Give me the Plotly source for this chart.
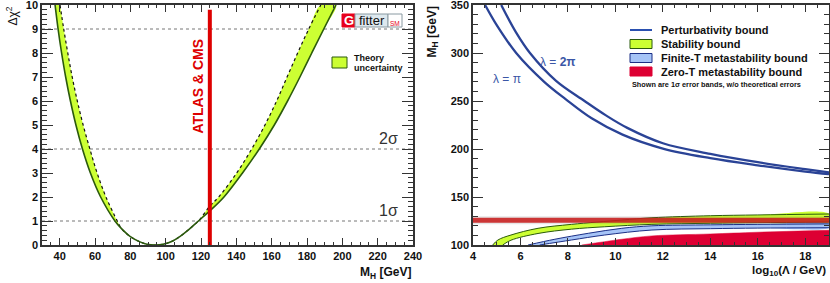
import plotly.graph_objects as go

W, H = 830, 283
FONT = "Liberation Sans, Arial, sans-serif"

# ---------------- Left panel data: Delta chi^2 vs M_H ----------------
# lower edge (solid line, with theory errors)
mh_solid = [37.4, 39.1, 41.1, 43.4, 46.1, 49.2, 52.9, 57.4, 63.2, 71.3, 75.0, 80.0, 85.5, 89.5, 94.0,
            98.5, 104.0, 108.0, 112.0, 118.5, 125.0, 133.0, 143.5, 153.0, 161.5, 169.0, 176.0, 182.7, 189.5, 196.4]
chi2_solid = [10, 9, 8, 7, 6, 5, 4, 3, 2, 1, 0.68, 0.35, 0.13, 0.03, 0.0,
              0.03, 0.17, 0.35, 0.58, 1.0, 1.42, 2, 3, 4, 5, 6, 7, 8, 9, 10]
# upper edge (dotted line, without theory errors)
mh_dotted = [40.2, 42.3, 44.6, 47.1, 50.0, 53.3, 57.1, 61.2, 66.2, 72.6, 75.0, 80.0, 85.5, 89.5, 94.0,
             98.5, 104.0, 108.0, 112.0, 118.5, 125.0, 130.0, 140.2, 148.7, 156.2, 162.8, 168.7, 174.7, 181.0, 187.8]
chi2_dotted = [10, 9, 8, 7, 6, 5, 4, 3, 2, 1, 0.68, 0.35, 0.13, 0.03, 0.0,
               0.03, 0.17, 0.35, 0.58, 1.0, 1.62, 2, 3, 4, 5, 6, 7, 8, 9, 10]
sigma_levels = [1, 4, 9]
sigma_labels = {1: "1σ", 4: "2σ"}
atlas_cms_mh = 125.0
atlas_line_chi2 = [0, 9.8]
mh_range = [30, 240]
chi2_range = [0, 10]
mh_ticks = [40, 60, 80, 100, 120, 140, 160, 180, 200, 220, 240]
chi2_ticks = [0, 1, 2, 3, 4, 5, 6, 7, 8, 9, 10]

# ---------------- Right panel data: M_H bounds vs log10(Lambda/GeV) ----------------
lam_range = [4, 19]
mhb_range = [100, 350]
lam_ticks = [4, 6, 8, 10, 12, 14, 16, 18]
mhb_ticks = [100, 150, 200, 250, 300, 350]

pert_pi_x = [4.51, 5.0, 5.82, 7.0, 7.9, 9.0, 10.3, 12.0, 14.0, 16.0, 18.0, 19.0]
pert_pi_y = [350, 329, 300, 270, 252, 232, 215, 200.5, 190.5, 183, 176.5, 173.8]
pert_2pi_x = [5.19, 5.8, 6.4, 7.5, 8.7, 9.6, 10.5, 12.0, 14.0, 16.0, 18.0, 19.0]
pert_2pi_y = [350, 322, 300, 271, 250, 235, 222, 206, 195, 186.3, 179.0, 175.6]

stab_up_x = [4.83, 5.05, 5.6, 6.74, 8.15, 10.27, 11.54, 14.0, 16.0, 19.0]
stab_up_y = [100, 105.2, 110.4, 117.4, 121.5, 126.0, 128.4, 130.5, 131.3, 132.3]
stab_lo_x = [5.25, 5.6, 6.74, 8.15, 9.55, 11.54, 14.0, 16.0, 19.0]
stab_lo_y = [100, 105.0, 112.0, 116.5, 119.0, 121.5, 122.6, 123.2, 124.0]

fint_up_x = [6.32, 7.45, 8.86, 10.27, 11.54, 14.0, 16.0, 19.0]
fint_up_y = [100, 106.0, 112.2, 117.4, 120.0, 121.0, 121.5, 122.0]
fint_lo_x = [6.81, 8.15, 9.55, 11.54, 14.0, 16.0, 19.0]
fint_lo_y = [100, 105.2, 110.4, 115.6, 117.0, 117.6, 118.0]

zert_x = [8.58, 9.55, 10.27, 11.54, 14.0, 16.0, 19.0]
zert_y = [100, 103.5, 106.0, 109.5, 111.5, 113.3, 115.3]

mh_measured = 125.7

legend_items = ["Perturbativity bound", "Stability bound", "Finite-T metastability bound",
                "Zero-T metastability bound"]

# colours
GREEN = "#ccff33"
GREEN_EDGE = "#2b5a0c"
BLUE = "#a6c4f7"
NAVY = "#1b2f86"
RED = "#dd0033"
PERT = "#2a4396"


def px(x):
    return x / W


def py(y):
    return 1 - y / H


fig = go.Figure()

# ---- left panel traces ----
for lv in sigma_levels:
    fig.add_trace(go.Scatter(x=mh_range, y=[lv, lv], mode="lines",
                             line=dict(color="#777777", width=1, dash="3px,3px"),
                             xaxis="x", yaxis="y", hoverinfo="skip", showlegend=False))

fig.add_trace(go.Scatter(x=mh_dotted + mh_solid[::-1], y=chi2_dotted + chi2_solid[::-1],
                         mode="lines", fill="toself", fillcolor=GREEN,
                         line=dict(width=0, shape="spline", smoothing=1.0),
                         xaxis="x", yaxis="y", showlegend=False))
fig.add_trace(go.Scatter(x=mh_dotted, y=chi2_dotted, mode="lines",
                         line=dict(color="#111111", width=1.2, dash="dot", shape="spline", smoothing=1.0),
                         xaxis="x", yaxis="y", showlegend=False))
fig.add_trace(go.Scatter(x=mh_solid, y=chi2_solid, mode="lines",
                         line=dict(color=GREEN_EDGE, width=1.6, shape="spline", smoothing=1.0),
                         xaxis="x", yaxis="y", showlegend=False))
fig.add_trace(go.Scatter(x=[atlas_cms_mh, atlas_cms_mh], y=atlas_line_chi2, mode="lines",
                         line=dict(color="#dd0000", width=4),
                         xaxis="x", yaxis="y", showlegend=False))

# ---- right panel traces ----
fig.add_trace(go.Scatter(x=stab_up_x + stab_lo_x[::-1], y=stab_up_y + stab_lo_y[::-1],
                         mode="lines", fill="toself", fillcolor=GREEN,
                         line=dict(width=0, shape="spline"), xaxis="x2", yaxis="y2", showlegend=False))
fig.add_trace(go.Scatter(x=fint_up_x + fint_lo_x[::-1], y=fint_up_y + fint_lo_y[::-1],
                         mode="lines", fill="toself", fillcolor=BLUE,
                         line=dict(width=0, shape="spline"), xaxis="x2", yaxis="y2", showlegend=False))
fig.add_trace(go.Scatter(x=zert_x, y=zert_y, mode="lines", fill="tozeroy", fillcolor=RED,
                         line=dict(width=0.5, color=RED, shape="spline"),
                         xaxis="x2", yaxis="y2", showlegend=False))
for xs, ys, col in [(stab_up_x, stab_up_y, GREEN_EDGE), (stab_lo_x, stab_lo_y, GREEN_EDGE),
                    (fint_up_x, fint_up_y, NAVY), (fint_lo_x, fint_lo_y, NAVY)]:
    fig.add_trace(go.Scatter(x=xs, y=ys, mode="lines", line=dict(color=col, width=1, shape="spline"),
                             xaxis="x2", yaxis="y2", showlegend=False))
for xs, ys in [(pert_pi_x, pert_pi_y), (pert_2pi_x, pert_2pi_y)]:
    fig.add_trace(go.Scatter(x=xs, y=ys, mode="lines", line=dict(color=PERT, width=2.3, shape="spline"),
                             xaxis="x2", yaxis="y2", showlegend=False))
# measured mass bar (with soft shadow)
fig.add_trace(go.Scatter(x=lam_range, y=[mh_measured, mh_measured], mode="lines",
                         line=dict(color="rgba(90,90,90,0.15)", width=8),
                         xaxis="x2", yaxis="y2", showlegend=False))
fig.add_trace(go.Scatter(x=lam_range, y=[mh_measured, mh_measured], mode="lines",
                         line=dict(color="rgba(200,30,30,0.88)", width=5),
                         xaxis="x2", yaxis="y2", showlegend=False))

# ---- axes ----
axis_common = dict(showgrid=False, zeroline=False, showline=True, linecolor="#333333", linewidth=1.5,
                   mirror="ticks", ticks="inside", tickcolor="#333333", tickwidth=1,
                   ticklabeloverflow="allow",
                   tickfont=dict(family=FONT, size=11, color="#111111", weight="bold"))

fig.update_layout(
    width=W, height=H, margin=dict(l=0, r=0, t=0, b=0, autoexpand=False),
    paper_bgcolor="white", plot_bgcolor="white", showlegend=False,
    xaxis=dict(domain=[px(42), px(413)], range=mh_range, anchor="y", tickvals=mh_ticks, ticklen=7,
               minor=dict(dtick=5, tick0=0, ticklen=3.5, ticks="inside", tickcolor="#333333"),
               **axis_common),
    yaxis=dict(domain=[py(245), py(5)], range=chi2_range, anchor="x", tickvals=chi2_ticks, ticklen=11,
               minor=dict(dtick=0.2, tick0=0, ticklen=5.5, ticks="inside", tickcolor="#333333"),
               **axis_common),
    xaxis2=dict(domain=[px(473), px(829)], range=lam_range, anchor="y2", tickvals=lam_ticks, ticklen=7,
                minor=dict(dtick=0.5, tick0=0, ticklen=3.5, ticks="inside", tickcolor="#333333"),
                **axis_common),
    yaxis2=dict(domain=[py(245), py(5)], range=mhb_range, anchor="x2", tickvals=mhb_ticks, ticklen=10,
                minor=dict(dtick=10, tick0=0, ticklen=5, ticks="inside", tickcolor="#333333"),
                **axis_common),
)

ann = []
shapes = []


def pann(text, x, y, size, color="#111", weight="normal", xanchor="center", yanchor="middle", angle=0):
    ann.append(dict(text=text, x=px(x), y=py(y), xref="paper", yref="paper", xanchor=xanchor,
                    yanchor=yanchor, textangle=angle, showarrow=False,
                    font=dict(family=FONT, size=size, color=color, weight=weight)))


# axis titles
pann("Δχ<sup>2</sup>", 11, 5, 12, yanchor="top", angle=-90)
pann("M<sub>H</sub> [GeV]", 413, 273, 12, weight="bold", xanchor="right")
pann("M<sub>H</sub> [GeV]", 432, 5, 12, weight="bold", yanchor="top", angle=-90)
pann("log<sub>10</sub>(Λ / GeV)", 828, 271, 11.5, weight="bold", xanchor="right")

# sigma labels
for lv, lab in sigma_labels.items():
    ann.append(dict(text=lab, x=232.5, y=lv, xref="x", yref="y", xanchor="right", yanchor="bottom",
                    showarrow=False, font=dict(family=FONT, size=16, color="#333")))

# ATLAS & CMS
ann.append(dict(text="ATLAS & CMS", x=118.3, y=6.6, xref="x", yref="y", textangle=-90, showarrow=False,
                xanchor="center", yanchor="middle",
                font=dict(family=FONT, size=14, color="#dd0000", weight="bold")))

# left legend
shapes.append(dict(type="rect", xref="paper", yref="paper", x0=px(332), x1=px(347), y0=py(68), y1=py(57),
                   fillcolor=GREEN, line=dict(color=GREEN_EDGE, width=1)))
pann("Theory", 352, 58, 9, weight="bold", xanchor="left")
pann("uncertainty", 352, 67.5, 9, weight="bold", xanchor="left")

# Gfitter logo
shapes.append(dict(type="rect", xref="paper", yref="paper", x0=px(342), x1=px(355), y0=py(27), y1=py(14),
                   fillcolor="#e8001c", line=dict(color="#e8001c", width=1)))
shapes.append(dict(type="rect", xref="paper", yref="paper", x0=px(355), x1=px(388), y0=py(27), y1=py(14),
                   fillcolor="#dde8ee", line=dict(color="#8a9aa2", width=1)))
shapes.append(dict(type="rect", xref="paper", yref="paper", x0=px(388), x1=px(402), y0=py(27), y1=py(14),
                   fillcolor="white", line=dict(color="#8a9aa2", width=1)))
pann("G", 348.5, 20.5, 13, color="white", weight="bold")
pann("fitter", 371.5, 20.5, 13)
pann("SM", 395, 23.5, 6.5, color="#e8001c")

# lambda labels
ann.append(dict(text="λ = <b>2π</b>", x=7.6, y=290.6, xref="x2", yref="y2", showarrow=False,
                xanchor="center", yanchor="middle", font=dict(family=FONT, size=12, color="#3b56a6")))
ann.append(dict(text="λ = π", x=5.44, y=273, xref="x2", yref="y2", showarrow=False,
                xanchor="center", yanchor="middle", font=dict(family=FONT, size=12, color="#3b56a6")))

# right legend
row_y = [30, 44, 58, 71.5]
shapes.append(dict(type="line", xref="paper", yref="paper", x0=px(630), x1=px(652), y0=py(row_y[0]),
                   y1=py(row_y[0]), line=dict(color="#2a50b0", width=2)))
for ry, fc, lc in [(row_y[1], GREEN, GREEN_EDGE), (row_y[2], BLUE, NAVY), (row_y[3], RED, RED)]:
    shapes.append(dict(type="rect", xref="paper", yref="paper", x0=px(630), x1=px(652),
                       y0=py(ry + 4.5), y1=py(ry - 4.5), fillcolor=fc, line=dict(color=lc, width=1)))
for ry, txt in zip(row_y, legend_items):
    pann(txt, 659, ry, 11, weight="bold", xanchor="left")
pann("Shown are 1σ error bands, w/o theoretical errors", 630, 84, 7.3, weight="bold", xanchor="left")

fig.update_layout(annotations=ann, shapes=shapes)
fig.write_html("out.html", config={"displayModeBar": False},
               post_script="document.body.style.margin='0px';")
